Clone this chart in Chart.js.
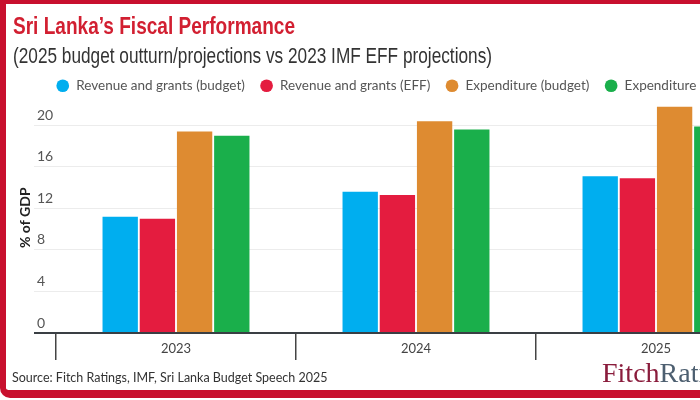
<!DOCTYPE html>
<html>
<head>
<meta charset="utf-8">
<script src="https://cdn.jsdelivr.net/npm/chart.js@4.4.1/dist/chart.umd.min.js"></script>
<style>
  html, body { margin: 0; padding: 0; width: 700px; height: 400px; overflow: hidden; background: #fff; }
  #frame {
    position: absolute; left: 0; top: 0;
    width: 782px; height: 398px; box-sizing: border-box;
    border-style: solid; border-color: #c8102e;
    border-width: 4px 6px 8px 6px;
    border-radius: 0 0 0 10px;
  }
  #wrap { position: absolute; left: 0; top: 0; width: 770px; height: 386px; }
  .head {
    position: absolute; left: 7px; white-space: nowrap; line-height: 1;
    transform-origin: 0 0; display: inline-block;
  }
  #title { top: 7.7px; font: bold 24px "Liberation Sans", Arial, sans-serif; color: #d21f31; }
  #subtitle { top: 39.4px; font: 22px "Liberation Sans", Arial, sans-serif; color: #333; }
  #source {
    position: absolute; left: 6px; top: 366px;
    font: 12.5px Lato, sans-serif; color: #333; white-space: nowrap;
  }
  #logo {
    position: absolute; left: 596px; top: 353px;
    font: 28px "Liberation Serif", "DejaVu Serif", serif; white-space: nowrap;
  }
  #logo .f { color: #8a1c3c; }
  #logo .r { color: #4d5f70; }
</style>
</head>
<body>
<div id="frame">
  <div id="wrap"><canvas id="chart"></canvas></div>
  <div id="title" class="head" data-w="282">Sri Lanka’s Fiscal Performance</div>
  <div id="subtitle" class="head" data-w="479">(2025 budget outturn/projections vs 2023 IMF EFF projections)</div>
  <div id="source">Source: Fitch Ratings, IMF, Sri Lanka Budget Speech 2025</div>
  <div id="logo"><span class="f">Fitch</span><span class="r">Ratings</span></div>
</div>
<script>
var categories = ['2023', '2024', '2025'];
var revenueBudget = [11.2, 13.6, 15.1];
var revenueEff = [11.0, 13.3, 14.9];
var expenditureBudget = [19.4, 20.4, 21.8];
var expenditureEff = [19.0, 19.6, 19.9];
var yTicks = [0, 4, 8, 12, 16, 20];

// squeeze the heading lines to the condensed width of the original
document.querySelectorAll('.head').forEach(function(el) {
  var w = el.getBoundingClientRect().width;
  el.style.transform = 'scaleX(' + (el.dataset.w / w) + ')';
});

var options = {
  type: 'bar',
  data: {
    labels: categories,
    datasets: [
      { label: 'Revenue and grants (budget)', data: revenueBudget, backgroundColor: '#00aeef' },
      { label: 'Revenue and grants (EFF)', data: revenueEff, backgroundColor: '#e41c3f' },
      { label: 'Expenditure (budget)', data: expenditureBudget, backgroundColor: '#de8b31' },
      { label: 'Expenditure (EFF)', data: expenditureEff, backgroundColor: '#1aaf4b' }
    ]
  },
  options: {
    responsive: true,
    maintainAspectRatio: false,
    animation: false,
    layout: { padding: { left: 4, right: 0, top: 60, bottom: 0 } },
    datasets: {
      bar: { barPercentage: 0.95, categoryPercentage: 0.62 }
    },
    plugins: {
      tooltip: { enabled: false },
      legend: {
        display: true,
        labels: {
          usePointStyle: true,
          pointStyle: 'circle',
          boxWidth: 14,
          boxHeight: 9,
          padding: 15,
          color: '#555',
          font: { family: 'Lato, sans-serif', size: 13.5 }
        }
      }
    },
    scales: {
      x: {
        z: 1,
        grid: {
          display: true,
          drawOnChartArea: false,
          drawTicks: true,
          tickLength: 27,
          color: '#444',
          lineWidth: 1.5
        },
        border: { display: true, color: '#3a3f44', width: 2 },
        ticks: {
          color: '#444',
          padding: -18.5,
          font: { family: 'Lato, sans-serif', size: 13 }
        },
        afterFit: function(scale) { scale.height = 57; }
      },
      y: {
        min: 0,
        max: 22.2,
        afterBuildTicks: function(scale) {
          scale.ticks = yTicks.map(function(v) { return { value: v }; });
        },
        border: { display: false },
        grid: {
          drawTicks: true,
          tickLength: 22,
          color: function(ctx) { return ctx.tick && ctx.tick.value === 0 ? '#3a3f44' : '#ececec'; },
          lineWidth: function(ctx) { return ctx.tick && ctx.tick.value === 0 ? 2 : 1; }
        },
        ticks: {
          mirror: true,
          padding: -19,
          labelOffset: -10,
          color: '#555',
          font: { family: 'Lato, sans-serif', size: 14 }
        },
        title: {
          display: true,
          text: '% of GDP',
          color: '#222',
          font: { family: 'Lato, sans-serif', size: 14, weight: 'bold' },
          padding: { top: 6.6, bottom: 0 }
        },
        afterFit: function(scale) { scale.width = 46; }
      }
    }
  }
};

var chart = new Chart(document.getElementById('chart'), options);
</script>
</body>
</html>
